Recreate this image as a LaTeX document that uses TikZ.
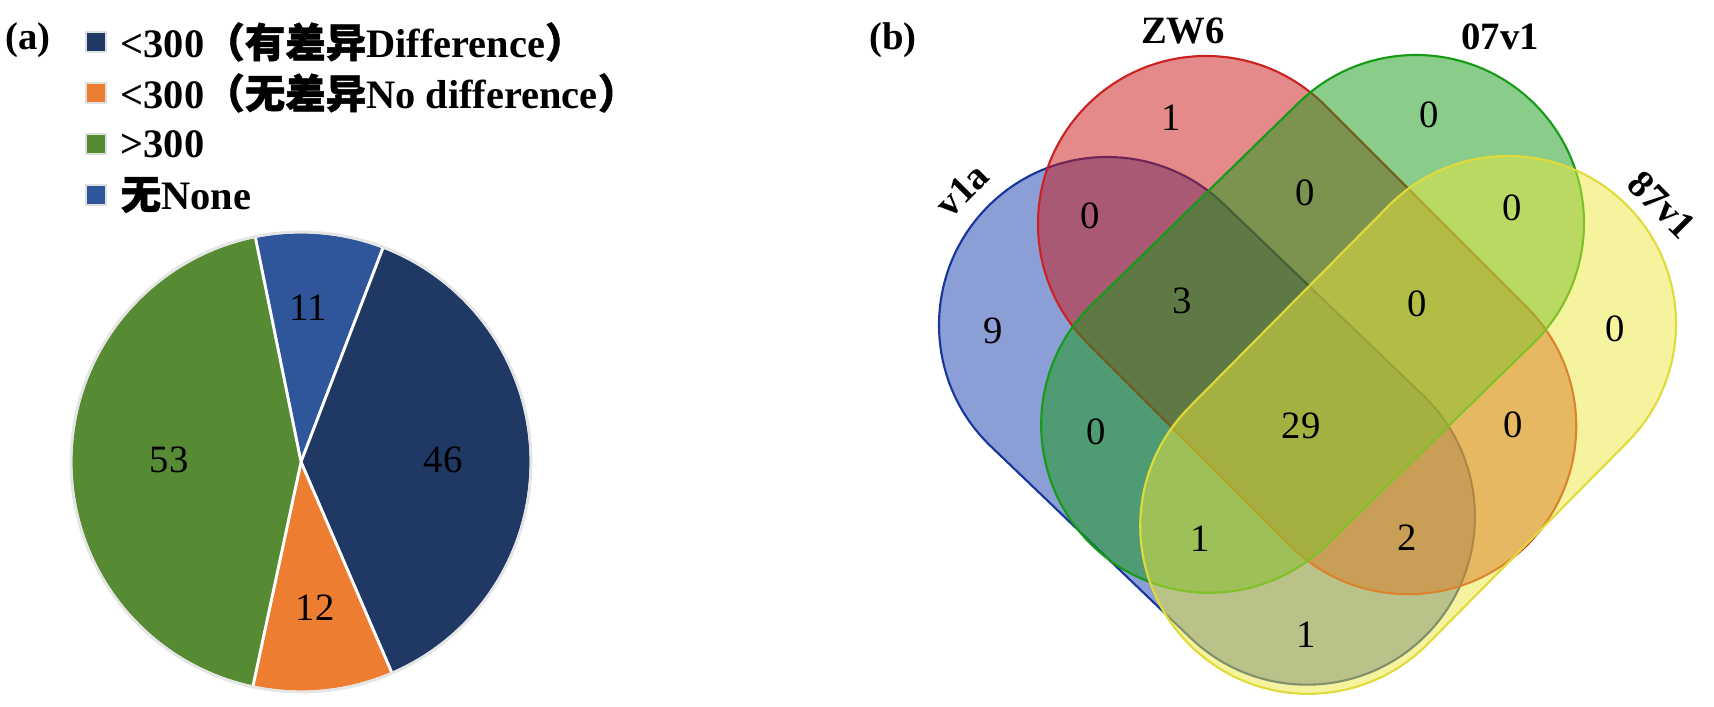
\documentclass[tikz,border=0pt]{standalone}
\usepackage{fontspec}
\setmainfont{Liberation Serif}
\newfontfamily\cjk[FakeBold=1.2]{Noto Sans CJK SC}

\definecolor{navy}{RGB}{31,56,100}
\definecolor{pieorange}{RGB}{237,125,49}
\definecolor{piegreen}{RGB}{86,139,51}
\definecolor{pieblue}{RGB}{47,85,155}
\definecolor{vblue}{RGB}{23,61,173}
\definecolor{vred}{RGB}{201,21,21}
\definecolor{vgreen}{RGB}{21,155,21}
\definecolor{vyellow}{RGB}{235,231,61}

% stadium: options, end centre, direction, length
\newcommand{\stadium}[4]{%
  \path[#1] (#2) ++(#3+90:168) arc (#3+90:#3+270:168) -- ++(#3:#4) arc (#3-90:#3+90:168) -- cycle;}

\tikzset{
  num/.style={font=\fontsize{11}{13}\selectfont},
  lab/.style={font=\fontsize{11}{13}\selectfont\bfseries},
  legend/.style={font=\fontsize{11.5}{13}\selectfont\bfseries},
  key/.style={draw=gray!25, line width=0.5pt, minimum size=0.2cm, inner sep=0pt},
  set/.style={fill opacity=0.5, line width=0.6pt}
}

\begin{document}
\begin{tikzpicture}[x=0.01cm, y=0.01cm]
  \useasboundingbox (0,0) rectangle (1714,707);

  % (a) pie
  \node[lab] (a) at (28,667) {(a)};
  \foreach \c/\t [count=\i] in {navy/<300{\cjk （有差异}Difference{\cjk ）},
      pieorange/<300{\cjk （无差异}No difference{\cjk ）},
      piegreen/>300, pieblue/{\cjk 无}None}{
    \node[key, fill=\c] (k\i) at (96,716-51*\i) {};
    \node[legend, anchor=west, inner sep=0pt] (t\i) at (120,716-51*\i) {\t};
  }
  \coordinate (pc) at (301,245);
  \foreach \a/\b/\c in {69.04/101.5/pieblue, -66.7/69.04/navy,
      -102.11/-66.7/pieorange, 101.5/257.89/piegreen}{
    \fill[\c, draw=white, line width=0.8pt] (pc) -- ++(\a:230) arc (\a:\b:230) -- cycle;
  }
  \draw[gray!20, line width=0.8pt] (pc) circle (230);
  \node[num] (p11) at (308,399) {11};
  \node[num] (p46) at (443,247) {46};
  \node[num] (p12) at (315,99) {12};
  \node[num] (p53) at (169,247) {53};

  % (b) venn
  \node[lab] (b) at (893,667) {(b)};
  \coordinate (bluetop) at (1107,382);
  \coordinate (redtop) at (1206,483);
  \coordinate (greentop) at (1416,484);
  \coordinate (yellowtop) at (1508,383);
  \stadium{set, fill=vblue, draw=vblue!90!black}{bluetop}{-43.8}{277}
  \stadium{set, fill=vred, draw=vred!95!white}{redtop}{-45}{286}
  \stadium{set, fill=vgreen, draw=vgreen}{greentop}{-135.7}{289}
  \stadium{set, fill=vyellow, draw=vyellow!95!black}{yellowtop}{-134.7}{284}

  \node[lab] (zw) at (1183,676) {ZW6};
  \node[lab] (ov) at (1500,670) {07v1};
  \node[lab, rotate=45, inner sep=1pt] (va) at (962,517) {v1a};
  \node[lab, rotate=-45, inner sep=1pt] (ev) at (1662,502) {87v1};

  \node[num] (n1) at (1171,589) {1};
  \node[num] (n2) at (1429,592) {0};
  \node[num] (n3) at (1090,491) {0};
  \node[num] (n4) at (1305,514) {0};
  \node[num] (n5) at (1512,499) {0};
  \node[num] (n6) at (993,376) {9};
  \node[num] (n7) at (1182,406) {3};
  \node[num] (n8) at (1417,403) {0};
  \node[num] (n9) at (1615,378) {0};
  \node[num] (n10) at (1096,275) {0};
  \node[num] (n11) at (1301,281) {29};
  \node[num] (n12) at (1513,282) {0};
  \node[num] (n13) at (1200,168) {1};
  \node[num] (n14) at (1407,169) {2};
  \node[num] (n15) at (1306,72) {1};
\end{tikzpicture}
\end{document}
